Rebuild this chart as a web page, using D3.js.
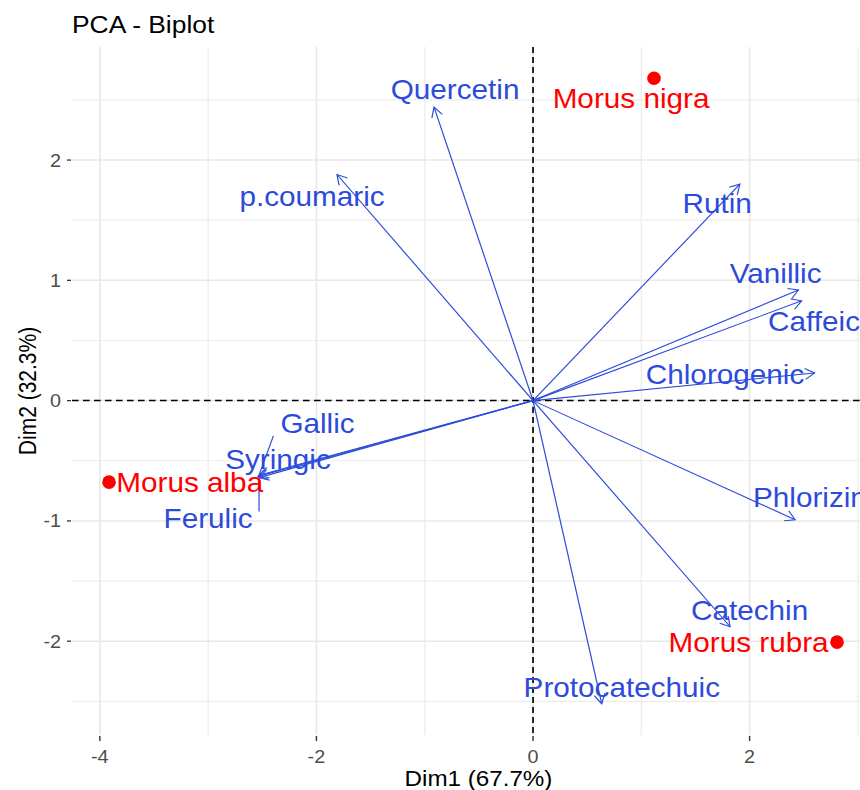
<!DOCTYPE html>
<html>
<head>
<meta charset="utf-8">
<script src="https://cdn.jsdelivr.net/npm/d3@7"></script>
<style>
  body { margin: 0; background: #fff; }
  text { font-family: "Liberation Sans", Arial, sans-serif; }
</style>
</head>
<body>
<div id="wrapper"></div>
<script>
// individuals (red points)
const indNames = ["Morus nigra", "Morus alba", "Morus rubra"]
const indX = [1.117, -3.915, 2.807]
const indY = [2.68, -0.678, -2.008]
const indLabX = [0.905, -3.17, 1.99]
const indLabY = [2.43, -0.76, -2.09]

// variables (blue arrows)
const varNames = ["Quercetin", "p.coumaric", "Rutin", "Vanillic", "Caffeic", "Chlorogenic",
  "Phlorizin", "Catechin", "Protocatechuic", "Gallic", "Syringic", "Ferulic"]
const varX = [-0.914, -1.81, 1.91, 2.45, 2.48, 2.60, 2.42, 1.82, 0.634, -2.53, -2.54, -2.53]
const varY = [2.44, 1.88, 1.80, 0.92, 0.83, 0.23, -0.99, -1.88, -2.52, -0.62, -0.63, -0.64]
const varLabX = [-0.72, -2.04, 1.70, 2.24, 2.595, 1.773, 2.557, 2.0, 0.82, -1.99, -2.355, -3.0]
const varLabY = [2.507, 1.62, 1.56, 0.977, 0.578, 0.137, -0.886, -1.825, -2.465, -0.27, -0.57, -1.06]

const xTicks = [-4, -2, 0, 2]
const yTicks = [-2, -1, 0, 1, 2]
const xMinor = [-3, -1, 1, 3]
const yMinor = [-2.5, -1.5, -0.5, 0.5, 1.5, 2.5]
const xLimits = [-4.257, 3.25]
const yLimits = [-2.78, 2.94]

const title = "PCA - Biplot"
const xTitle = "Dim1 (67.7%)"
const yTitle = "Dim2 (32.3%)"

// the reference is a little wider than tall, so draw in a squeezed space and stretch
const SX = 1.1
const width = 860, height = 790
const W = width / SX

const blue = "#2c4bdb"
const red = "#ff0000"

const svg = d3.select("#wrapper").append("svg")
  .attr("width", width)
  .attr("height", height)
  .attr("viewBox", `0 0 ${W} ${height}`)
  .attr("preserveAspectRatio", "none")

const panel = { left: 72 / SX, right: 885 / SX, top: 47, bottom: 735 }

const xScale = d3.scaleLinear().domain(xLimits).range([panel.left, panel.right])
const yScale = d3.scaleLinear().domain(yLimits).range([panel.bottom, panel.top])

// grid
const grid = svg.append("g")
grid.selectAll(".xminor").data(xMinor).join("line")
  .attr("x1", d => xScale(d)).attr("x2", d => xScale(d))
  .attr("y1", panel.top).attr("y2", panel.bottom)
  .attr("stroke", "#ededed").attr("stroke-width", 1.2)
grid.selectAll(".yminor").data(yMinor).join("line")
  .attr("x1", panel.left).attr("x2", panel.right)
  .attr("y1", d => yScale(d)).attr("y2", d => yScale(d))
  .attr("stroke", "#ededed").attr("stroke-width", 1.2)
grid.selectAll(".xmajor").data(xTicks).join("line")
  .attr("x1", d => xScale(d)).attr("x2", d => xScale(d))
  .attr("y1", panel.top).attr("y2", panel.bottom)
  .attr("stroke", "#e8e8e8").attr("stroke-width", 1.5)
grid.selectAll(".ymajor").data(yTicks).join("line")
  .attr("x1", panel.left).attr("x2", panel.right)
  .attr("y1", d => yScale(d)).attr("y2", d => yScale(d))
  .attr("stroke", "#e8e8e8").attr("stroke-width", 1.5)

// axes ticks + labels
const xAxis = svg.append("g")
xAxis.selectAll("line").data(xTicks).join("line")
  .attr("x1", d => xScale(d)).attr("x2", d => xScale(d))
  .attr("y1", panel.bottom + 1).attr("y2", panel.bottom + 6)
  .attr("stroke", "#333").attr("stroke-width", 1.3)
xAxis.selectAll("text").data(xTicks).join("text")
  .attr("x", d => xScale(d)).attr("y", 763)
  .attr("text-anchor", "middle")
  .attr("font-size", 18).attr("fill", "#4d4d4d")
  .text(d => d)

const yAxis = svg.append("g")
yAxis.selectAll("line").data(yTicks).join("line")
  .attr("x1", panel.left - 5 / SX).attr("x2", panel.left - 1 / SX)
  .attr("y1", d => yScale(d)).attr("y2", d => yScale(d))
  .attr("stroke", "#333").attr("stroke-width", 1.3)
yAxis.selectAll("text").data(yTicks).join("text")
  .attr("x", 61 / SX).attr("y", d => yScale(d))
  .attr("dy", "0.36em")
  .attr("text-anchor", "end")
  .attr("font-size", 18).attr("fill", "#4d4d4d")
  .text(d => d)

// titles
svg.append("text")
  .attr("x", 72 / SX).attr("y", 33)
  .attr("font-size", 24).attr("fill", "#000")
  .text(title)
svg.append("text")
  .attr("x", (panel.left + panel.right) / 2).attr("y", 786)
  .attr("text-anchor", "middle")
  .attr("font-size", 22).attr("fill", "#000")
  .text(xTitle)
svg.append("text")
  .attr("transform", `translate(${36 / SX},${(panel.top + panel.bottom) / 2}) rotate(-90)`)
  .attr("text-anchor", "middle")
  .attr("font-size", 21).attr("fill", "#000")
  .text(yTitle)

// dashed reference lines
svg.append("line")
  .attr("x1", panel.left).attr("x2", panel.right)
  .attr("y1", yScale(0)).attr("y2", yScale(0))
  .attr("stroke", "#000").attr("stroke-width", 1.5).attr("stroke-dasharray", "6,4")
svg.append("line")
  .attr("x1", xScale(0)).attr("x2", xScale(0))
  .attr("y1", panel.top).attr("y2", panel.bottom)
  .attr("stroke", "#000").attr("stroke-width", 1.5).attr("stroke-dasharray", "6,4")

// arrows
const vars = varNames.map((name, i) => ({
  name, x: varX[i], y: varY[i], lx: varLabX[i], ly: varLabY[i]
}))

const arrowHead = d => {
  const x0 = xScale(0), y0 = yScale(0)
  const x1 = xScale(d.x), y1 = yScale(d.y)
  const a = Math.atan2(y1 - y0, (x1 - x0) * SX)
  const len = 11, spread = Math.PI / 6
  const p1 = [x1 - len * Math.cos(a - spread) / SX, y1 - len * Math.sin(a - spread)]
  const p2 = [x1 - len * Math.cos(a + spread) / SX, y1 - len * Math.sin(a + spread)]
  return `M${p1[0]},${p1[1]}L${x1},${y1}L${p2[0]},${p2[1]}`
}

const arrows = svg.append("g")
arrows.selectAll("line").data(vars).join("line")
  .attr("x1", xScale(0)).attr("y1", yScale(0))
  .attr("x2", d => xScale(d.x)).attr("y2", d => yScale(d.y))
  .attr("stroke", blue).attr("stroke-width", 1.1)
arrows.selectAll("path").data(vars).join("path")
  .attr("d", arrowHead)
  .attr("fill", "none").attr("stroke", blue).attr("stroke-width", 1.1)

// variable labels + repel segments (from padded label box to arrow tip)
const varLabels = svg.append("g")
varLabels.selectAll("text").data(vars).join("text")
  .attr("x", d => xScale(d.lx)).attr("y", d => yScale(d.ly))
  .attr("text-anchor", "middle")
  .attr("font-size", 27).attr("fill", blue)
  .text(d => d.name)
  .each(function (d) {
    const b = this.getBBox()
    const pad = 7 / SX
    const tx = xScale(d.x), ty = yScale(d.y)
    const cx = Math.max(b.x - pad, Math.min(tx, b.x + b.width + pad))
    const cy = Math.max(b.y + 8, Math.min(ty, b.y + b.height - 3))
    const dist = Math.hypot((tx - cx) * SX, ty - cy)
    if (dist > 15) {
      varLabels.append("line")
        .attr("x1", cx).attr("y1", cy).attr("x2", tx).attr("y2", ty)
        .attr("stroke", blue).attr("stroke-width", 1.1)
    }
  })

// individuals
const inds = indNames.map((name, i) => ({
  name, x: indX[i], y: indY[i], lx: indLabX[i], ly: indLabY[i]
}))
svg.append("g").selectAll("ellipse").data(inds).join("ellipse")
  .attr("cx", d => xScale(d.x)).attr("cy", d => yScale(d.y))
  .attr("rx", 6.8 / SX).attr("ry", 6.8)
  .attr("fill", red)
svg.append("g").selectAll("text").data(inds).join("text")
  .attr("x", d => xScale(d.lx)).attr("y", d => yScale(d.ly))
  .attr("text-anchor", "middle")
  .attr("font-size", 27).attr("fill", red)
  .text(d => d.name)
</script>
</body>
</html>
